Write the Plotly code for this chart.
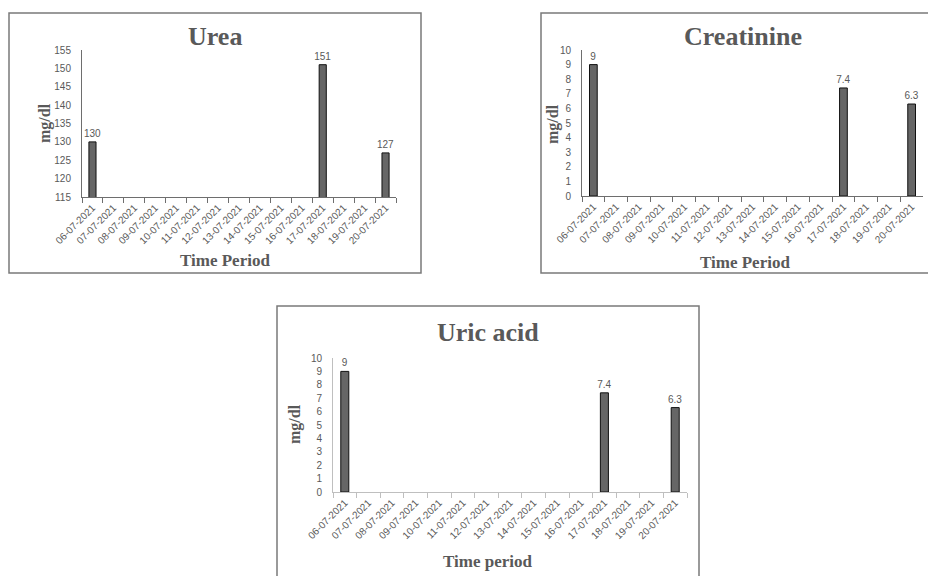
import plotly.graph_objects as go

dates = ["06-07-2021", "07-07-2021", "08-07-2021", "09-07-2021", "10-07-2021",
         "11-07-2021", "12-07-2021", "13-07-2021", "14-07-2021", "15-07-2021",
         "16-07-2021", "17-07-2021", "18-07-2021", "19-07-2021", "20-07-2021"]
urea = [130, None, None, None, None, None, None, None, None, None, None, 151, None, None, 127]
creatinine = [9, None, None, None, None, None, None, None, None, None, None, 7.4, None, None, 6.3]
uric_acid = [9, None, None, None, None, None, None, None, None, None, None, 7.4, None, None, 6.3]

W, H = 936, 576
OFF = 8  # page body margin
GRAY = "#595959"
SERIF = "Liberation Serif, Times New Roman, serif"
SANS = "Liberation Sans, Arial, sans-serif"


def px(x):
    return (x - OFF) / W


def py(y):
    return 1 - (y - OFF) / H


def labels(vals):
    return ["" if v is None else (str(v)) for v in vals]


fig = go.Figure()
panels = [
    ("x", "y", urea),
    ("x2", "y2", creatinine),
    ("x3", "y3", uric_acid),
]
for xa, ya, vals in panels:
    fig.add_trace(go.Bar(
        x=dates, y=vals, xaxis=xa, yaxis=ya, width=0.34,
        marker=dict(color="#666666", line=dict(color="#111111", width=1)),
        text=labels(vals), textposition="outside", cliponaxis=False,
        constraintext="none",
        textfont=dict(family=SANS, size=10, color=GRAY),
        showlegend=False, hoverinfo="x+y",
    ))

# plot-area geometry (pixels in the screenshot)
areas = {
    "": (82, 396, 50, 197, "#6e6e6e", [115, 155], 5),
    "2": (582, 923, 50, 196, "#6e6e6e", [0, 10], 1),
    "3": (333, 687, 358, 492, "#bfbfbf", [0, 10], 1),
}
layout = {}
for k, (x0, x1, y0, y1, acol, rng, dt) in areas.items():
    layout["xaxis" + k] = dict(
        domain=[px(x0), px(x1)], anchor="y" + k, type="category",
        tickson="boundaries", ticks="outside", ticklen=5, tickcolor=acol,
        showline=True, linecolor=acol, linewidth=1, showgrid=False,
        tickangle=-45, tickfont=dict(family=SANS, size=10, color=GRAY),
        range=[-0.5, 14.5], zeroline=False, automargin=False,
    )
    layout["yaxis" + k] = dict(
        domain=[py(y1), py(y0)], anchor="x" + k, range=rng, dtick=dt,
        showline=True, linecolor=acol, linewidth=1, showgrid=False,
        zeroline=False, ticks="", ticklabelstandoff=8, automargin=False,
        tickfont=dict(family=SANS, size=10, color=GRAY),
    )

shapes = []
for (bx0, by0, bx1, by1) in [(9, 13, 421, 273), (541, 13, 935, 273), (277, 306, 699, 590)]:
    shapes.append(dict(type="rect", xref="paper", yref="paper",
                       x0=px(bx0), x1=px(bx1), y0=py(by1), y1=py(by0),
                       line=dict(color="#7a7a7a", width=1.5), fillcolor="rgba(0,0,0,0)"))

annotations = []
titles = [(215, 37, "Urea"), (743, 37, "Creatinine"), (488, 332, "Uric acid")]
for x, y, t in titles:
    annotations.append(dict(x=px(x), y=py(y), xref="paper", yref="paper", text="<b>%s</b>" % t,
                            showarrow=False, xanchor="center", yanchor="middle",
                            font=dict(family=SERIF, size=26, color=GRAY)))
xtitles = [(225, 260, "Time Period"), (745, 262, "Time Period"), (488, 561, "Time period")]
for x, y, t in xtitles:
    annotations.append(dict(x=px(x), y=py(y), xref="paper", yref="paper", text="<b>%s</b>" % t,
                            showarrow=False, xanchor="center", yanchor="middle",
                            font=dict(family=SERIF, size=17, color=GRAY)))
ytitles = [(45, 123), (553, 124), (295, 424)]
for x, y in ytitles:
    annotations.append(dict(x=px(x), y=py(y), xref="paper", yref="paper", text="<b>mg/dl</b>",
                            showarrow=False, xanchor="center", yanchor="middle", textangle=-90,
                            font=dict(family=SERIF, size=16, color=GRAY)))

fig.update_layout(
    width=W, height=H, margin=dict(l=0, r=0, t=0, b=0, pad=0, autoexpand=False),
    paper_bgcolor="white", plot_bgcolor="white",
    shapes=shapes, annotations=annotations, **layout,
)
fig.write_html("out.html")
